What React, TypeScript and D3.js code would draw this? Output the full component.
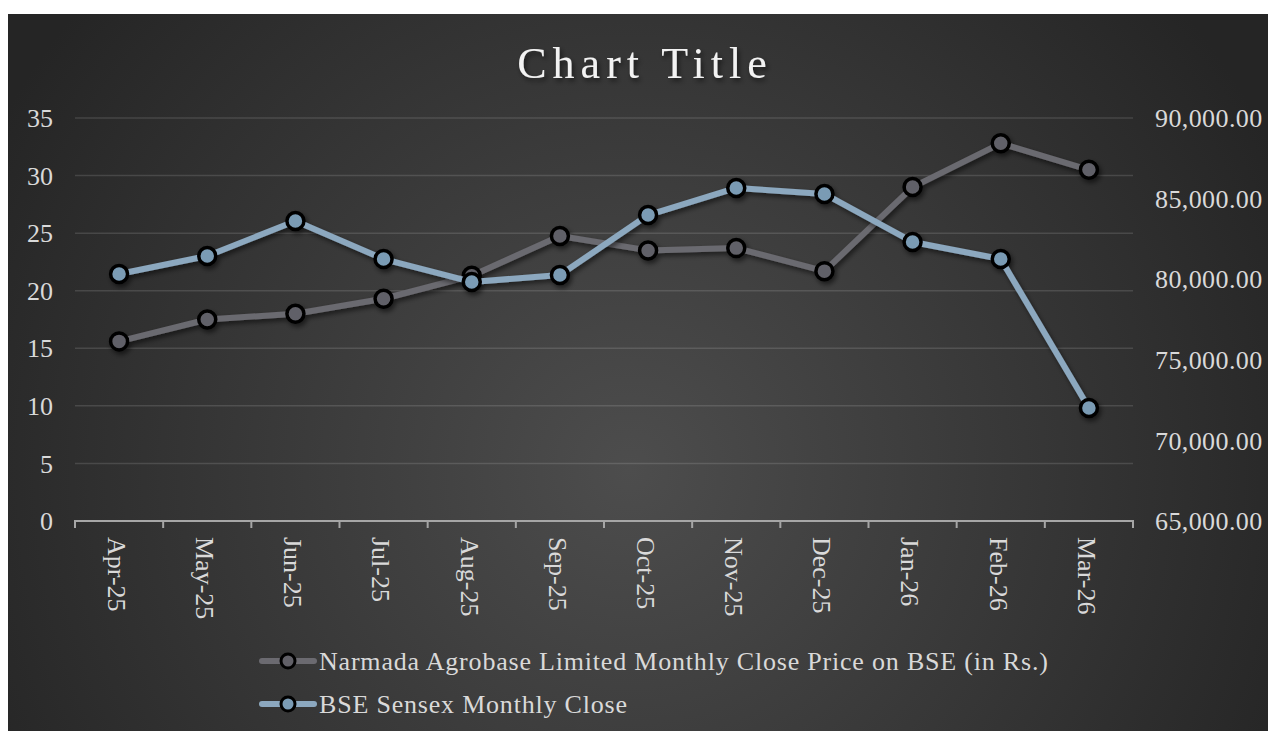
import React, { useEffect, useRef } from "react";
import * as d3 from "d3";

const months = ["Apr-25", "May-25", "Jun-25", "Jul-25", "Aug-25", "Sep-25", "Oct-25", "Nov-25", "Dec-25", "Jan-26", "Feb-26", "Mar-26"];
// Narmada Agrobase close price (left axis, Rs.)
const narmadaClose = [15.6, 17.5, 18.0, 19.3, 21.3, 24.75, 23.5, 23.7, 21.7, 29.0, 32.8, 30.5];
// BSE Sensex close (right axis)
const sensexClose = [80320, 81440, 83610, 81250, 79830, 80260, 83980, 85660, 85290, 82310, 81250, 72010];
const leftTicks = [0, 5, 10, 15, 20, 25, 30, 35];
const rightTicks = [65000, 70000, 75000, 80000, 85000, 90000];
const seriesNames = [
  "Narmada Agrobase Limited Monthly Close Price on BSE (in Rs.)",
  "BSE Sensex Monthly Close",
];

const FONT = "'Liberation Serif', 'Times New Roman', serif";

const App = () => {
  const ref = useRef<SVGSVGElement>(null);

  useEffect(() => {
    const svg = d3.select(ref.current);
    svg.selectAll("*").remove();

    const W = 1268;
    const H = 731;

    const defs = svg.append("defs");
    const bg = defs
      .append("radialGradient")
      .attr("id", "bg")
      .attr("gradientUnits", "userSpaceOnUse")
      .attr("cx", 630)
      .attr("cy", 470)
      .attr("r", 720);
    bg.append("stop").attr("offset", "0%").attr("stop-color", "#4d4d4d");
    bg.append("stop").attr("offset", "100%").attr("stop-color", "#252525");

    const shadow = defs
      .append("filter")
      .attr("id", "shadow")
      .attr("x", "-20%")
      .attr("y", "-20%")
      .attr("width", "140%")
      .attr("height", "140%");
    shadow
      .append("feDropShadow")
      .attr("dx", 2)
      .attr("dy", 3)
      .attr("stdDeviation", 2.5)
      .attr("flood-color", "#000")
      .attr("flood-opacity", 0.55);

    // chart background
    svg
      .append("rect")
      .attr("x", 8)
      .attr("y", 14)
      .attr("width", W - 8)
      .attr("height", H - 14)
      .attr("fill", "url(#bg)");

    const x = d3.scaleBand<string>().domain(months).range([75, 1133]);
    const yL = d3.scaleLinear().domain([0, 35]).range([521, 118]);
    const yR = d3.scaleLinear().domain([65000, 90000]).range([521, 118]);

    // title
    svg
      .append("text")
      .attr("x", 645)
      .attr("y", 78)
      .attr("text-anchor", "middle")
      .style("font-family", FONT)
      .style("font-size", "44px")
      .style("letter-spacing", "6px")
      .style("fill", "#f2f2f2")
      .attr("filter", "url(#shadow)")
      .text("Chart Title");

    // gridlines
    svg
      .append("g")
      .selectAll("line")
      .data(leftTicks.slice(1))
      .join("line")
      .attr("x1", 75)
      .attr("x2", 1133)
      .attr("y1", (d) => yL(d))
      .attr("y2", (d) => yL(d))
      .attr("stroke", "rgba(255,255,255,0.13)")
      .attr("stroke-width", 1.5);

    // left axis labels
    svg
      .append("g")
      .selectAll("text")
      .data(leftTicks)
      .join("text")
      .attr("x", 53)
      .attr("y", (d) => yL(d))
      .attr("dy", "0.35em")
      .attr("text-anchor", "end")
      .style("font-family", FONT)
      .style("font-size", "26px")
      .style("fill", "#d9d9d9")
      .text((d) => d);

    // right axis labels
    svg
      .append("g")
      .selectAll("text")
      .data(rightTicks)
      .join("text")
      .attr("x", 1155)
      .attr("y", (d) => yR(d))
      .attr("dy", "0.35em")
      .attr("text-anchor", "start")
      .style("font-family", FONT)
      .style("font-size", "26px")
      .style("letter-spacing", "0.4px")
      .style("fill", "#d9d9d9")
      .text((d) => d3.format(",.2f")(d));

    // x axis
    const xAxis = svg.append("g").attr("stroke", "#a6a6a6").attr("stroke-width", 2);
    xAxis.append("line").attr("x1", 75).attr("x2", 1133).attr("y1", 521).attr("y2", 521);
    const edges = months.map((m) => x(m) as number).concat([1133]);
    xAxis
      .selectAll("line.tick")
      .data(edges)
      .join("line")
      .attr("class", "tick")
      .attr("x1", (d) => d)
      .attr("x2", (d) => d)
      .attr("y1", 520)
      .attr("y2", 528);

    svg
      .append("g")
      .selectAll("text")
      .data(months)
      .join("text")
      .attr(
        "transform",
        (d) => `translate(${(x(d) as number) + x.bandwidth() / 2 - 2}, 537) rotate(90)`
      )
      .attr("dy", "0.35em")
      .attr("text-anchor", "start")
      .style("font-family", FONT)
      .style("font-size", "26px")
      .style("fill", "#d9d9d9")
      .text((d) => d);

    const cx = (i: number) => (x(months[i]) as number) + x.bandwidth() / 2;

    const series = [
      { values: narmadaClose, scale: yL, line: "#6b6a70", fill: "#616067" },
      { values: sensexClose, scale: yR, line: "#8ca8bf", fill: "#7a9bb4" },
    ];

    series.forEach((s) => {
      const g = svg.append("g").attr("filter", "url(#shadow)");
      const lineGen = d3
        .line<number>()
        .x((_, i) => cx(i))
        .y((d) => s.scale(d));
      g.append("path")
        .datum(s.values)
        .attr("d", lineGen)
        .attr("fill", "none")
        .attr("stroke", s.line)
        .attr("stroke-width", 6)
        .attr("stroke-linejoin", "round")
        .attr("stroke-linecap", "round");
      g.selectAll("circle")
        .data(s.values)
        .join("circle")
        .attr("cx", (_, i) => cx(i))
        .attr("cy", (d) => s.scale(d))
        .attr("r", 8.5)
        .attr("fill", s.fill)
        .attr("stroke", "#000")
        .attr("stroke-width", 3.5);
    });

    // legend
    const legendY = [661, 704];
    series.forEach((s, i) => {
      const g = svg.append("g");
      g.append("line")
        .attr("x1", 262)
        .attr("x2", 314)
        .attr("y1", legendY[i])
        .attr("y2", legendY[i])
        .attr("stroke", s.line)
        .attr("stroke-width", 6)
        .attr("stroke-linecap", "round");
      g.append("circle")
        .attr("cx", 288)
        .attr("cy", legendY[i])
        .attr("r", 7)
        .attr("fill", s.fill)
        .attr("stroke", "#000")
        .attr("stroke-width", 3);
      g.append("text")
        .attr("x", 319)
        .attr("y", legendY[i])
        .attr("dy", "0.35em")
        .style("font-family", FONT)
        .style("font-size", "26px")
        .style("letter-spacing", "0.8px")
        .style("fill", "#d9d9d9")
        .text(seriesNames[i]);
    });
  }, []);

  return (
    <svg
      ref={ref}
      width={1268}
      height={731}
      style={{ position: "absolute", left: 0, top: 0, display: "block" }}
    />
  );
};

export default App;
